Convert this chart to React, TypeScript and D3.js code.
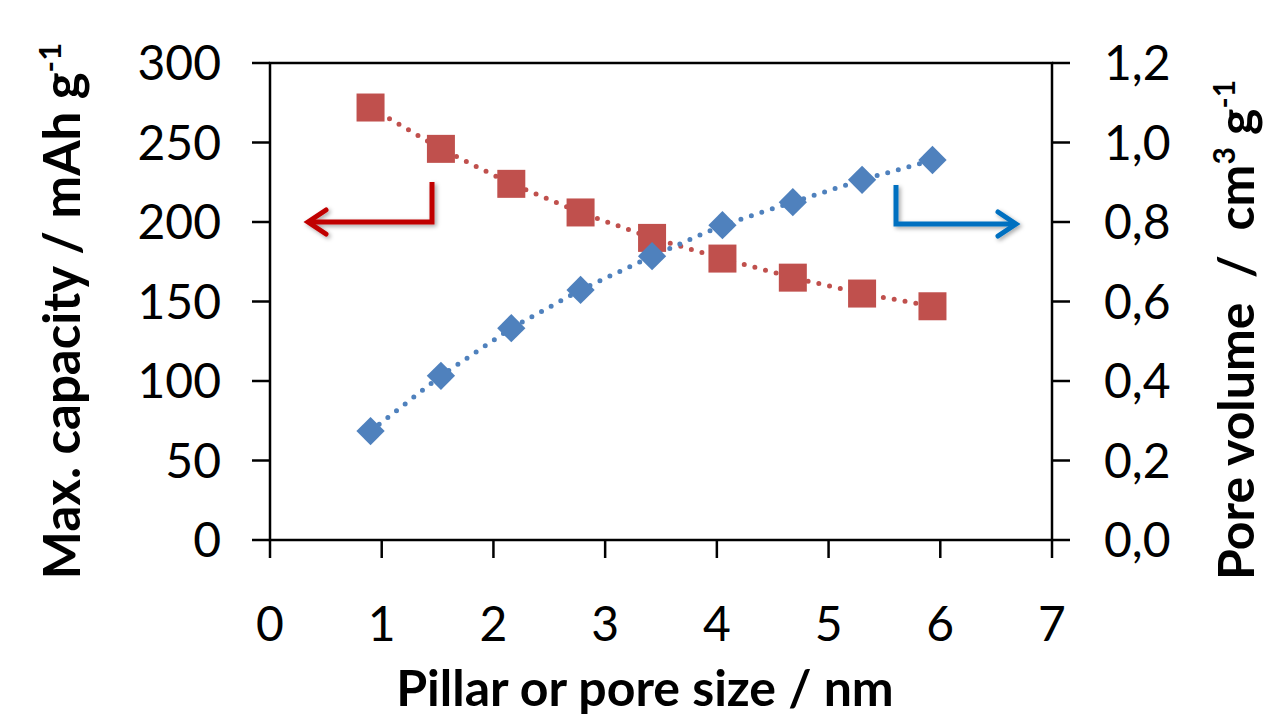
import React from "react";
import * as d3 from "d3";

const poreSize = [0.9, 1.53, 2.16, 2.78, 3.42, 4.05, 4.68, 5.3, 5.93];
const capacity = [272, 246, 224, 206, 190, 177, 165, 155, 147];
const poreVolume = [0.274, 0.413, 0.533, 0.629, 0.714, 0.792, 0.85, 0.906, 0.956];
const xTicks = [0, 1, 2, 3, 4, 5, 6, 7];
const leftTicks = [0, 50, 100, 150, 200, 250, 300];
const rightTicks = [0, 0.2, 0.4, 0.6, 0.8, 1.0, 1.2];

const W = 1266, H = 719;
const left = 270, right = 1052, top = 63, bottom = 540;
const FONT = "Lato, 'Open Sans', sans-serif";
const RED = "#c0504d", BLUE = "#4f81bd";

export default function App() {
  const x = d3.scaleLinear().domain([0, 7]).range([left, right]);
  const yL = d3.scaleLinear().domain([0, 300]).range([bottom, top]);
  const yR = d3.scaleLinear().domain([0, 1.2]).range([bottom, top]);

  const redLine = d3.line<number>().x((_, i) => x(poreSize[i])).y((d) => yL(d))(capacity) || "";
  const blueLine = d3.line<number>().x((_, i) => x(poreSize[i])).y((d) => yR(d))(poreVolume) || "";
  const fmtR = (v: number) => v.toFixed(1).replace(".", ",");

  return (
    <svg width={W} height={H} style={{ position: "absolute", left: 0, top: 0, background: "#fff" }} fontFamily={FONT}>
      <defs>
        <filter id="sh" x="-20%" y="-20%" width="140%" height="140%">
          <feDropShadow dx="2" dy="2" stdDeviation="2" floodColor="#000" floodOpacity="0.35" />
        </filter>
      </defs>
      <rect x={left} y={top} width={right - left} height={bottom - top} fill="none" stroke="#000" strokeWidth={2.5} />
      {xTicks.map((t) => (
        <g key={"x" + t}>
          <line x1={x(t)} x2={x(t)} y1={bottom} y2={bottom + 18} stroke="#000" strokeWidth={2.5} />
          <text x={x(t)} y={641} textAnchor="middle" fontSize={48}>{t}</text>
        </g>
      ))}
      {leftTicks.map((t) => (
        <g key={"l" + t}>
          <line x1={left - 18} x2={left} y1={yL(t)} y2={yL(t)} stroke="#000" strokeWidth={2.5} />
          <text x={221} y={yL(t)} dy="0.36em" textAnchor="end" fontSize={48}>{t}</text>
        </g>
      ))}
      {rightTicks.map((t) => (
        <g key={"r" + t}>
          <line x1={right} x2={right + 18} y1={yR(t)} y2={yR(t)} stroke="#000" strokeWidth={2.5} />
          <text x={1104} y={yR(t)} dy="0.36em" textAnchor="start" fontSize={48}>{fmtR(t)}</text>
        </g>
      ))}
      <path d={redLine} fill="none" stroke={RED} strokeWidth={5} strokeDasharray="0 11" strokeLinecap="round" />
      <path d={blueLine} fill="none" stroke={BLUE} strokeWidth={5} strokeDasharray="0 11" strokeLinecap="round" />
      {capacity.map((v, i) => (
        <rect key={"s" + i} x={x(poreSize[i]) - 14} y={yL(v) - 14} width={28} height={28} fill={RED} />
      ))}
      {poreVolume.map((v, i) => (
        <rect key={"d" + i} x={-10} y={-10} width={20} height={20} fill={BLUE}
          transform={`translate(${x(poreSize[i])},${yR(v)}) rotate(45)`} />
      ))}
      <g filter="url(#sh)" fill="none" stroke="#c00000" strokeWidth={5} strokeLinejoin="miter">
        <polyline points="432,182 432,222 308,222" />
        <polyline points="326,210 308,222 326,234" strokeLinecap="round" />
      </g>
      <g filter="url(#sh)" fill="none" stroke="#0070c0" strokeWidth={5} strokeLinejoin="miter">
        <polyline points="896,185 896,224 1016,224" />
        <polyline points="998,212 1016,224 998,236" strokeLinecap="round" />
      </g>
      <text x={645} y={706} textAnchor="middle" fontSize={50} fontWeight="bold">Pillar or pore size / nm</text>
      <text transform="translate(80,311) rotate(-90)" textAnchor="middle" fontSize={51} fontWeight="bold">
        Max. capacity / mAh g<tspan dy={-19} fontSize={31}>-1</tspan>
      </text>
      <text transform="translate(1254,330) rotate(-90)" textAnchor="middle" fontSize={50} fontWeight="bold">
        Pore volume{"\u00a0\u00a0"}/{"\u00a0\u00a0"}cm<tspan dy={-19} fontSize={30}>3</tspan><tspan dy={19}>{"\u00a0"}g</tspan><tspan dy={-19} fontSize={30}>-1</tspan>
      </text>
    </svg>
  );
}
